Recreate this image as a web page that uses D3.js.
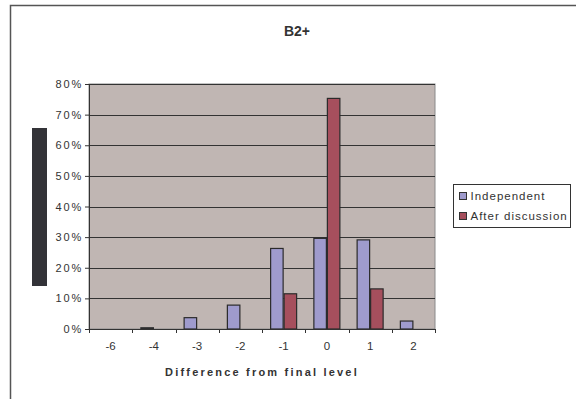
<!DOCTYPE html>
<html>
<head>
<meta charset="utf-8">
<script src="https://cdn.jsdelivr.net/npm/d3@7"></script>
<style>
  html, body { margin: 0; padding: 0; background: #fff; }
  svg { display: block; font-family: Arial, "Liberation Sans", sans-serif; }
</style>
</head>
<body>
<svg id="chart" width="576" height="399"></svg>
<script>
// Distribution of rating differences from the final level (B2+)
const categories = ["-6", "-4", "-3", "-2", "-1", "0", "1", "2"];
const seriesNames = ["Independent", "After discussion"];
const independent = [0, 0.4, 3.7, 7.8, 26.3, 29.6, 29.1, 2.6];
const afterDiscussion = [0, 0, 0, 0, 11.5, 75.3, 13.1, 0];
const yTicks = [0, 10, 20, 30, 40, 50, 60, 70, 80];
const colors = ["#9f9bcd", "#a64f5d"];

const svg = d3.select("#chart");
const plot = { left: 89, top: 84, right: 435, bottom: 329 };

// outer chart frame
svg.append("rect")
  .attr("x", 10.5).attr("y", 5.5)
  .attr("width", 600).attr("height", 420)
  .attr("fill", "#fff").attr("stroke", "#555").attr("stroke-width", 1.5);

const x0 = d3.scaleBand().domain(categories).range([plot.left, plot.right]).paddingInner(0).paddingOuter(0);
const x1 = d3.scaleBand().domain(seriesNames).range([0, 27]);
const y = d3.scaleLinear().domain([0, 80]).range([plot.bottom, plot.top]);

// plot background
svg.append("rect")
  .attr("x", plot.left).attr("y", plot.top)
  .attr("width", plot.right - plot.left).attr("height", plot.bottom - plot.top)
  .attr("fill", "#c0b6b3").attr("stroke", "#8a8a8a");

// gridlines
svg.append("g").selectAll("line")
  .data(yTicks.filter(t => t > 0))
  .join("line")
  .attr("x1", plot.left).attr("x2", plot.right)
  .attr("y1", d => Math.round(y(d)) + 0.5).attr("y2", d => Math.round(y(d)) + 0.5)
  .attr("stroke", "#333").attr("stroke-width", 1);

// bars
const rows = categories.map((c, i) => ({ cat: c, vals: [independent[i], afterDiscussion[i]] }));
const groups = svg.append("g").selectAll("g")
  .data(rows)
  .join("g")
  .attr("transform", d => `translate(${x0(d.cat) + (x0.bandwidth() - 27) / 2},0)`);
groups.selectAll("rect")
  .data(d => d.vals.map((v, j) => ({ v, s: seriesNames[j], j })).filter(e => e.v > 0))
  .join("rect")
  .attr("x", d => x1(d.s) + 0.5)
  .attr("y", d => y(d.v))
  .attr("width", x1.bandwidth() - 1)
  .attr("height", d => y(0) - y(d.v))
  .attr("fill", d => colors[d.j])
  .attr("stroke", "#2b2b2b").attr("stroke-width", 1.2);

// y axis
const yAxis = svg.append("g")
  .attr("transform", `translate(${plot.left},0)`)
  .call(d3.axisLeft(y).tickValues(yTicks).tickFormat(d => d + "%").tickSize(4).tickPadding(2));
yAxis.select(".domain").attr("stroke", "#333");
yAxis.selectAll(".tick line").attr("stroke", "#333");
yAxis.selectAll("text").attr("font-size", 11).attr("fill", "#333").attr("letter-spacing", "1.8px");

// x axis
const xAxis = svg.append("g")
  .attr("transform", `translate(0,${plot.bottom})`)
  .call(d3.axisBottom(x0).tickSize(0).tickPadding(13));
xAxis.select(".domain").attr("stroke", "#333");
xAxis.selectAll("text").attr("font-size", 11.5).attr("fill", "#333");
xAxis.selectAll(".edge").data(d3.range(categories.length + 1)).join("line")
  .attr("class", "edge")
  .attr("x1", i => Math.round(plot.left + i * x0.step()) + 0.5)
  .attr("x2", i => Math.round(plot.left + i * x0.step()) + 0.5)
  .attr("y1", 0).attr("y2", 4)
  .attr("stroke", "#333");

// axis title
svg.append("text")
  .attr("x", 262).attr("y", 376)
  .attr("text-anchor", "middle")
  .attr("font-size", 11).attr("font-weight", "bold")
  .attr("letter-spacing", "2.2px")
  .attr("fill", "#333")
  .text("Difference from final level");

// chart title
svg.append("text")
  .attr("x", 297).attr("y", 36)
  .attr("text-anchor", "middle")
  .attr("font-size", 14).attr("font-weight", "bold")
  .attr("fill", "#333")
  .text("B2+");

// masked y-axis caption block
svg.append("rect")
  .attr("x", 32).attr("y", 128)
  .attr("width", 15).attr("height", 158)
  .attr("fill", "#333338");

// legend
const legend = svg.append("g").attr("transform", "translate(453.5,184.5)");
legend.append("rect")
  .attr("width", 117).attr("height", 43)
  .attr("fill", "#fff").attr("stroke", "#333");
const items = legend.selectAll("g.item")
  .data(seriesNames)
  .join("g").attr("class", "item")
  .attr("transform", (d, i) => `translate(0,${11.5 + i * 20})`);
items.append("rect")
  .attr("x", 6).attr("y", -3.5).attr("width", 7).attr("height", 7)
  .attr("fill", (d, i) => colors[i]).attr("stroke", "#333").attr("stroke-width", 1);
items.append("text")
  .attr("x", 17).attr("y", 4)
  .attr("font-size", 11.5).attr("fill", "#333")
  .attr("letter-spacing", "1px")
  .text(d => d);
</script>
</body>
</html>
